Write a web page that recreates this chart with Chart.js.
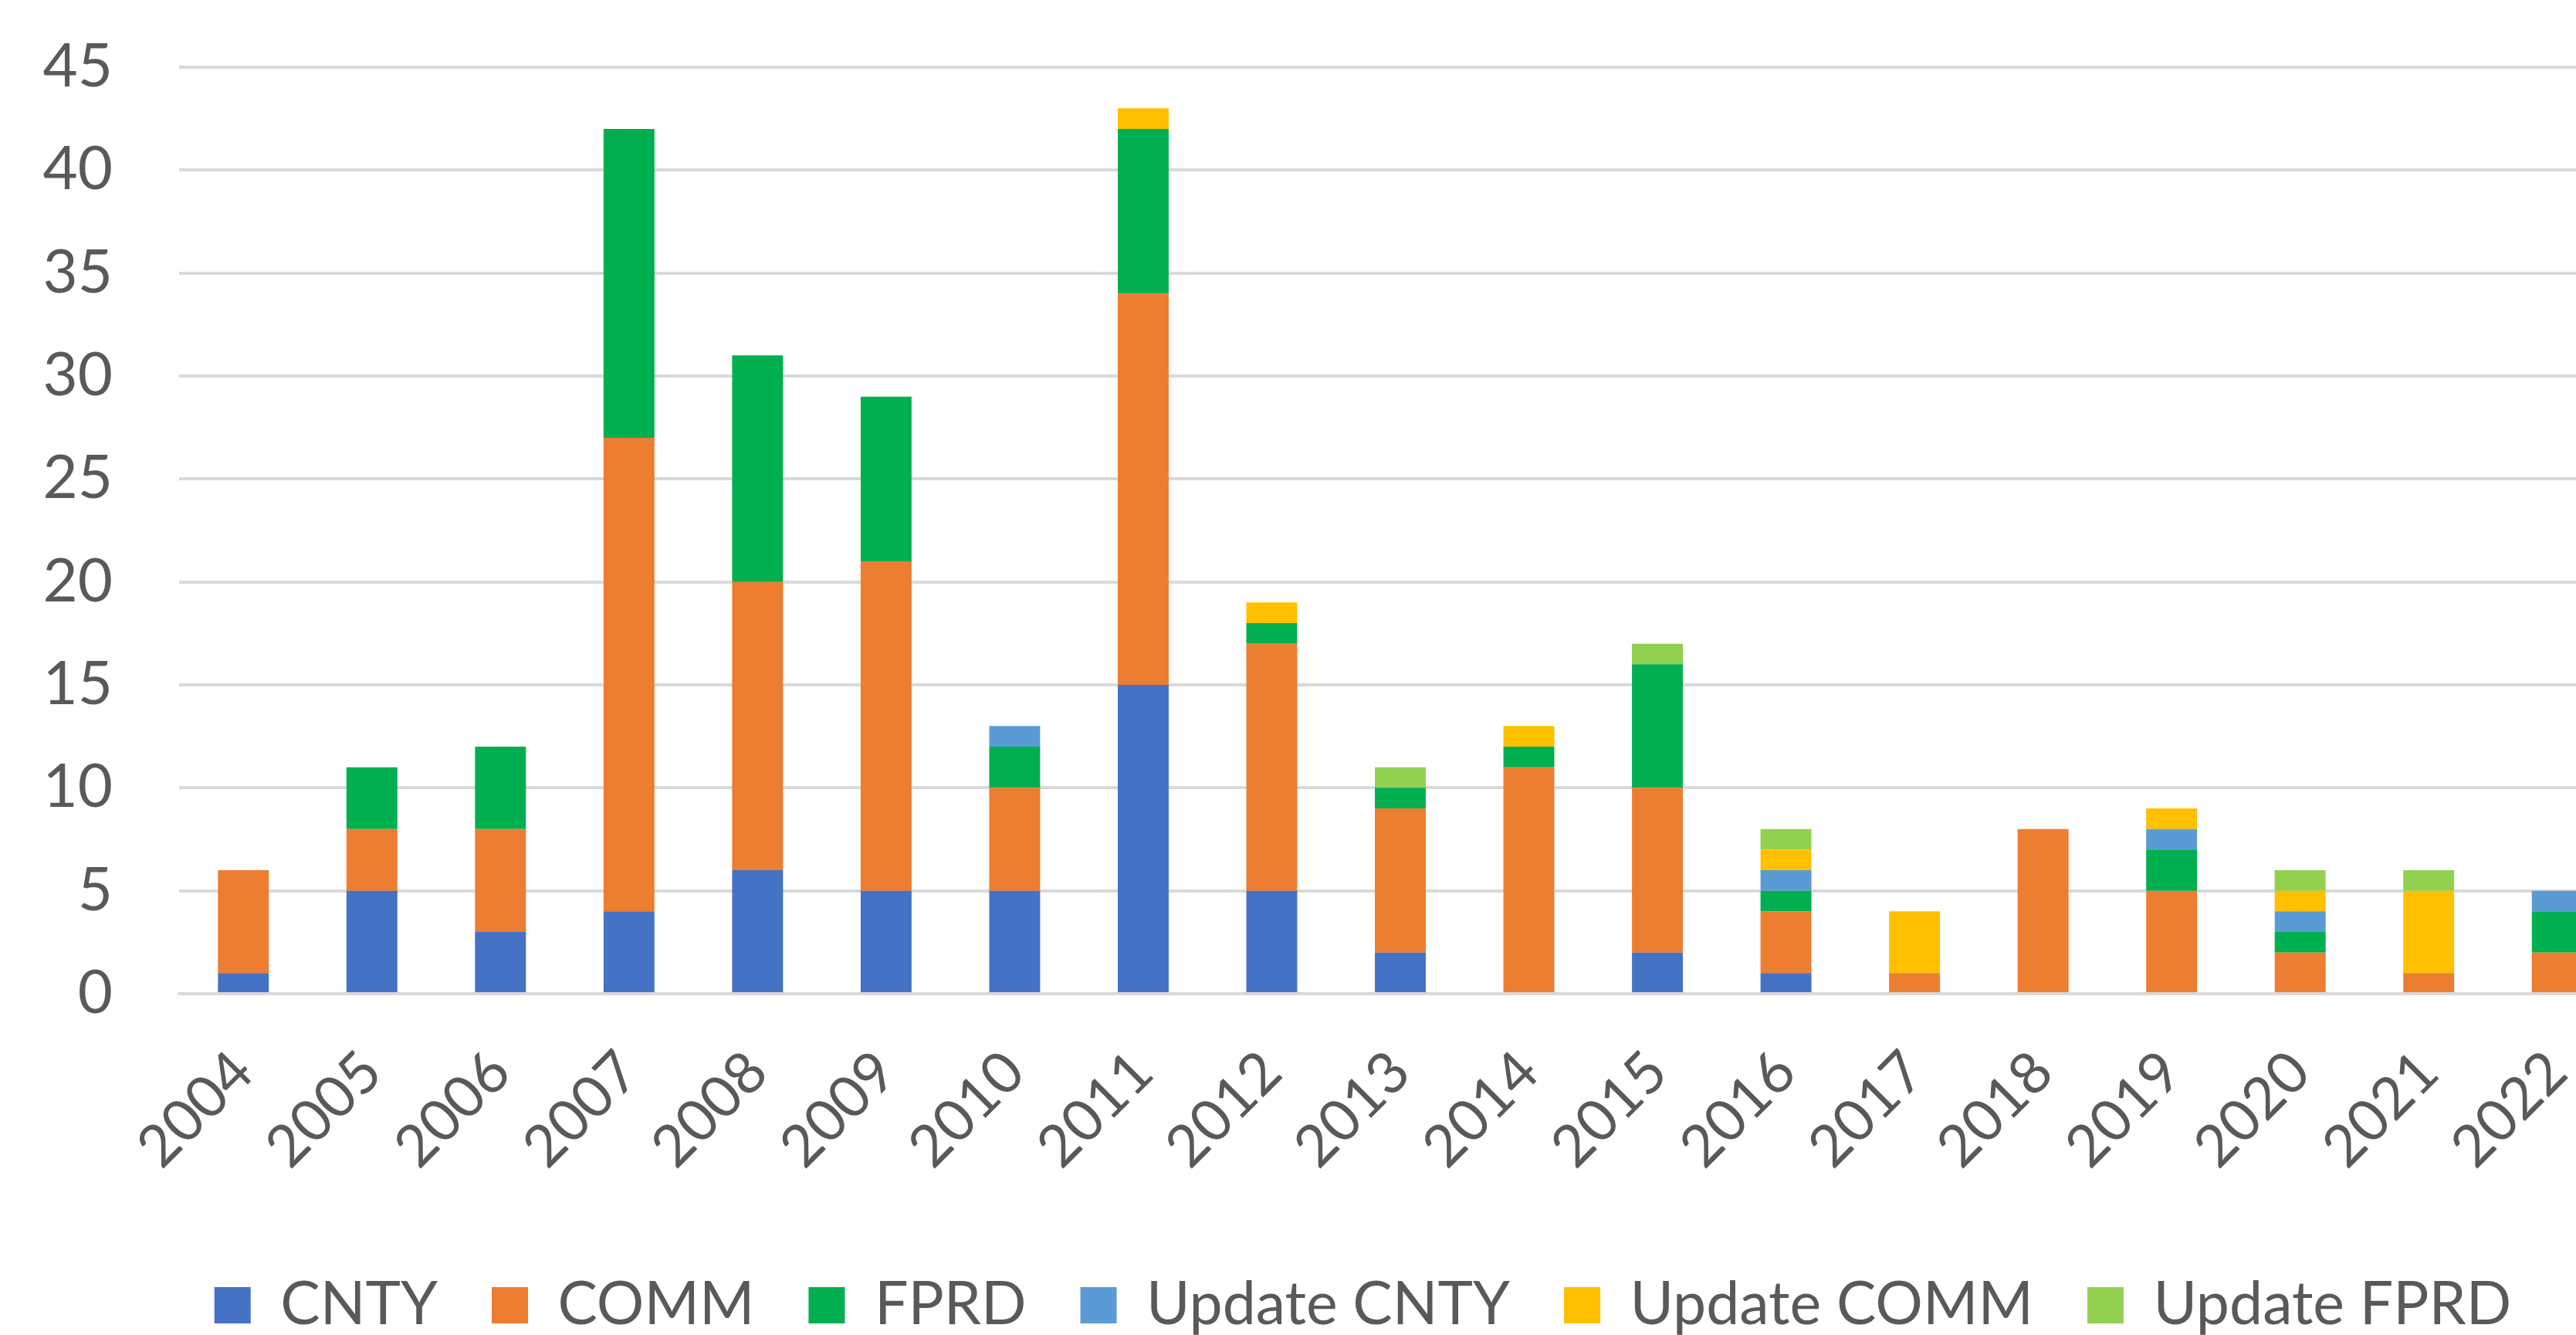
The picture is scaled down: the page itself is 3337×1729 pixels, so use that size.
<!DOCTYPE html>
<html>
<head>
<meta charset="utf-8">
<script src="https://cdn.jsdelivr.net/npm/chart.js@4"></script>
<style>
  html, body { margin: 0; padding: 0; background: #fff; overflow: hidden; }
  #wrap { width: 3337px; height: 1729px; overflow: hidden; }
</style>
</head>
<body>
<div id="wrap">
  <canvas id="myChart" width="3531" height="1729"></canvas>
</div>
<script>
const years = ["2004","2005","2006","2007","2008","2009","2010","2011","2012","2013",
               "2014","2015","2016","2017","2018","2019","2020","2021","2022"]
const cnty       = [1, 5, 3, 4, 6, 5, 5, 15, 5, 2, 0, 2, 1, 0, 0, 0, 0, 0, 0]
const comm       = [5, 3, 5, 23, 14, 16, 5, 19, 12, 7, 11, 8, 3, 1, 8, 5, 2, 1, 2]
const fprd       = [0, 3, 4, 15, 11, 8, 2, 8, 1, 1, 1, 6, 1, 0, 0, 2, 1, 0, 2]
const updateCnty = [0, 0, 0, 0, 0, 0, 1, 0, 0, 0, 0, 0, 1, 0, 0, 1, 1, 0, 1]
const updateComm = [0, 0, 0, 0, 0, 0, 0, 1, 1, 0, 1, 0, 1, 3, 0, 1, 1, 4, 0]
const updateFprd = [0, 0, 0, 0, 0, 0, 0, 0, 0, 1, 0, 1, 1, 0, 0, 0, 1, 1, 0]
const yTicks = [0, 5, 10, 15, 20, 25, 30, 35, 40, 45]

const seriesNames = ["CNTY", "COMM", "FPRD", "Update CNTY", "Update COMM", "Update FPRD"]
const seriesValues = [cnty, comm, fprd, updateCnty, updateComm, updateFprd]
const seriesColors = ["#4472C4", "#ED7D31", "#00B050", "#5B9BD5", "#FFC000", "#92D050"]

const textColor = "#595959"
const gridColor = "#D9D9D9"
const fontFamily = "Lato, 'Open Sans', sans-serif"

Chart.defaults.font.family = fontFamily
Chart.defaults.color = textColor

const ctx = document.getElementById("myChart").getContext("2d")
new Chart(ctx, {
    type: "bar",
    data: {
        labels: years,
        datasets: seriesNames.map((name, i) => ({
            label: name,
            data: seriesValues[i],
            backgroundColor: seriesColors[i],
            borderWidth: 0,
            barPercentage: 0.396,
            categoryPercentage: 1
        }))
    },
    options: {
        responsive: false,
        animation: false,
        devicePixelRatio: 1,
        layout: {
            padding: { left: 0, right: 0, top: 87, bottom: -10 }
        },
        plugins: {
            tooltip: { enabled: false },
            legend: {
                position: "bottom",
                labels: {
                    font: { size: 77 },
                    color: textColor,
                    boxWidth: 47,
                    boxHeight: 47,
                    padding: 70
                }
            }
        },
        scales: {
            x: {
                stacked: true,
                grid: { display: false, drawTicks: false },
                border: { display: true, color: gridColor, width: 4 },
                ticks: {
                    font: { size: 75 },
                    color: textColor,
                    minRotation: 45,
                    maxRotation: 45,
                    padding: 57,
                    autoSkip: false
                },
                afterFit: (axis) => { axis.height = 295 }
            },
            y: {
                stacked: true,
                min: 0,
                max: 45,
                afterBuildTicks: (axis) => { axis.ticks = yTicks.map(v => ({ value: v })) },
                grid: { color: gridColor, lineWidth: 4, drawTicks: false },
                border: { display: false },
                ticks: {
                    font: { size: 78 },
                    color: textColor,
                    padding: 86
                },
                afterFit: (axis) => {
                    axis.width = 232
                    axis.paddingTop = 0
                    axis.paddingBottom = 0
                }
            },
            // empty space on the right so the legend centres like the original
            yRight: {
                position: "right",
                display: true,
                grid: { display: false, drawTicks: false },
                border: { display: false },
                ticks: { display: false },
                afterFit: (axis) => {
                    axis.width = 135
                    axis.paddingTop = 0
                    axis.paddingBottom = 0
                }
            }
        }
    }
})
</script>
</body>
</html>
